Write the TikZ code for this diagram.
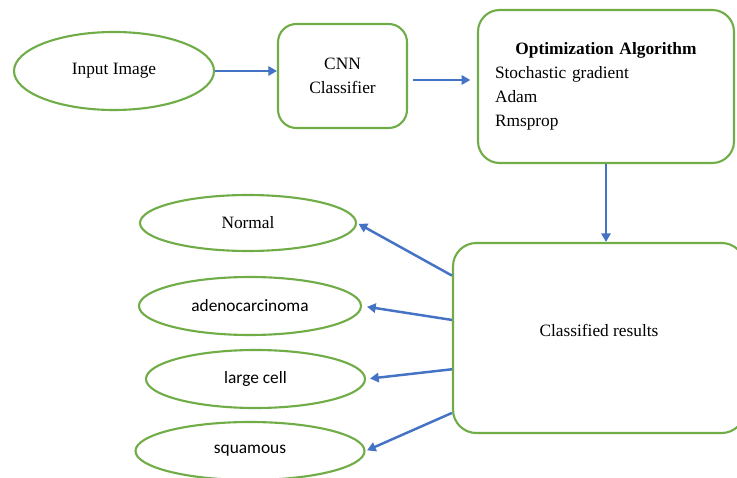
\documentclass[tikz,border=0pt]{standalone}
\usepackage{fontspec}
\setmainfont{Liberation Serif}
\newfontfamily\labelsans{Carlito}
\usepackage{xcolor}
\usetikzlibrary{arrows.meta,shapes.geometric}
\definecolor{stageline}{HTML}{70AD47}
\definecolor{flowline}{HTML}{4472C4}
\tikzset{
  stage/.style={
    rounded corners=0.55cm,
    draw=stageline,
    line width=1.8pt,
    fill=white,
    align=center,
    font=\fontsize{14.8}{20.4}\selectfont,
    inner sep=0pt
  },
  outcome/.style={
    ellipse,
    draw=stageline,
    line width=1.8pt,
    fill=white,
    inner sep=0pt,
    font=\fontsize{14.8}{17}\selectfont
  },
  sanslabel/.style={font=\labelsans\fontsize{14.8}{17}\selectfont},
  flow/.style={line width=2.1pt, draw=flowline, -{Triangle[length=2.6mm,width=2.8mm]}}
}

\begin{document}
\begin{tikzpicture}[x=1cm,y=1cm]
\useasboundingbox (0,0) rectangle (22.11,14.31);
\clip (0,0) rectangle (22.11,14.31);
\fill[white] (0,0) rectangle (22.11,14.31);

% top row
\node[outcome, minimum width=6.0cm, minimum height=2.34cm] (input) at (3.42,12.18) {Input Image};
\node[stage, minimum width=3.87cm, minimum height=3.12cm] (cnn) at (10.275,12.03) {CNN\\Classifier};
\node[stage, rounded corners=0.65cm, minimum width=7.68cm, minimum height=4.59cm, text width=6.66cm, align=left] (opt) at (18.18,11.715)
  {\centering\textbf{Optimization Algorithm}\par\raggedright Stochastic gradient\\Adam\\Rmsprop};
\draw[flow] (input.east) -- (input.east -| cnn.west);
\draw[flow, shorten <=0.15cm, shorten >=0.2cm] ([yshift=-0.12cm]cnn.east) -- ([yshift=-0.12cm]cnn.east -| opt.west);

% results and classes
\node[stage, rounded corners=0.7cm, minimum width=8.76cm, minimum height=5.7cm, text depth=0.45cm] (res) at (17.97,4.17) {Classified results};
\draw[flow] (opt.south) -- (opt.south |- res.north);

\node[outcome, minimum width=6.48cm, minimum height=1.68cm] (normal) at (7.44,7.62) {Normal};
\node[outcome, sanslabel, minimum width=6.66cm, minimum height=1.74cm] (adeno) at (7.5,5.13) {adenocarcinoma};
\node[outcome, sanslabel, minimum width=6.57cm, minimum height=1.74cm] (large) at (7.665,2.94) {large cell};
\node[outcome, sanslabel, minimum width=6.87cm, minimum height=1.74cm] (squam) at (7.5,0.78) {squamous};

\draw[flow, shorten >=0.05cm] (res.157) -- (normal.east);
\draw[flow, shorten >=0.15cm] (res.173) -- (adeno.east);
\draw[flow, shorten >=0.12cm] (res.192) -- (large.east);
\draw[flow, shorten >=0.05cm] (res.207) -- (squam.east);
\end{tikzpicture}
\end{document}
